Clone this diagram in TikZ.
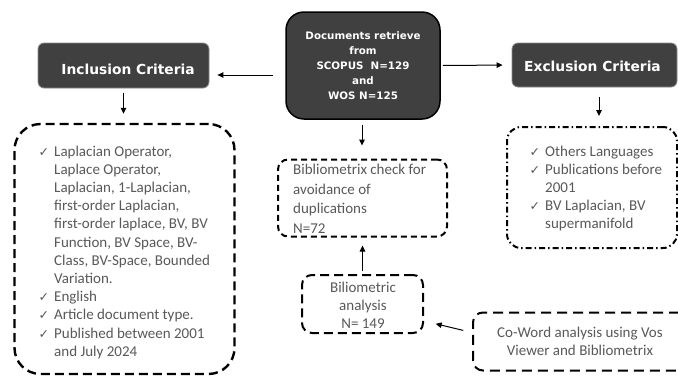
\documentclass[tikz,border=0pt]{standalone}
\usepackage{fontspec}
\setmainfont{Carlito}
\newfontfamily\hdfont{DejaVu Sans}
\newfontfamily\ckfont{DejaVu Sans}
\usetikzlibrary{arrows.meta}
\definecolor{darkfill}{HTML}{404040}
\definecolor{txtgray}{HTML}{595959}
\definecolor{edgegray}{HTML}{8C8C8C}
\newcommand{\ck}{{\ckfont\fontsize{12.5}{12}\selectfont ✓}}
\newcommand{\ckl}{\llap{\ck\hspace{5pt}}}
\tikzset{
  darkbox/.style={draw=edgegray, line width=0.8pt, fill=darkfill, rounded corners=6pt, inner sep=0pt},
  hdtext/.style={inner sep=0pt, text=white, font=\hdfont\bfseries\fontsize{13.8}{16}\selectfont},
  docbox/.style={draw=black, line width=1.5pt, fill=darkfill, rounded corners=18pt, inner sep=0pt,
    text=white, align=center, font=\hdfont\bfseries\fontsize{10.3}{15}\selectfont},
  dashbox/.style={draw=black, line width=2pt, inner sep=0pt, rounded corners=10pt},
  listtxt/.style={inner sep=0pt, text=txtgray, align=left, font=\fontsize{15}{18.2}\selectfont},
  arr/.style={draw=black, line width=1pt, -{Triangle[length=6pt,width=5.5pt]}},
}
\begin{document}
\begin{tikzpicture}[x=1pt,y=-1pt]
\useasboundingbox (0,0) rectangle (678,381);
\clip (0,0) rectangle (678,381);
\fill[white] (0,0) rectangle (678,381);

% dark boxes
\node[docbox, minimum width=154pt, minimum height=107pt] (docs) at (363,65.5)
  {Documents retrieve\\from\\SCOPUS\ \ N=129\\and\\WOS N=125};
\node[darkbox, minimum width=171pt, minimum height=45pt] (incl) at (123.5,65.5) {};
\node[hdtext] (incltxt) at (128,69) {Inclusion Criteria};
\node[darkbox, minimum width=165pt, minimum height=44pt] (excl) at (594.5,65) {};
\node[hdtext] (excltxt) at (592.5,66.5) {Exclusion Criteria};

% dashed boxes
\node[dashbox, line width=2.4pt, dash pattern=on 9pt off 5pt, rounded corners=26pt,
  minimum width=220pt, minimum height=250pt] (incllist) at (124.5,249) {};
\node[dashbox, dash pattern=on 6pt off 4pt, minimum width=169pt, minimum height=77pt] (check) at (362.5,198) {};
\node[dashbox, dash pattern=on 9pt off 5pt, minimum width=121pt, minimum height=58pt] (bili) at (362.5,304) {};
\node[dashbox, dash pattern=on 6pt off 3pt on 1.5pt off 3pt, rounded corners=14pt,
  minimum width=170pt, minimum height=121pt] (excllist) at (592,187.5) {};
\node[dashbox, dash pattern=on 10pt off 6pt, minimum width=216pt, minimum height=58pt] (coword) at (581,341.5) {};

% texts
\node[listtxt, anchor=north west] (incltext) at (54,145.5) {%
\ckl Laplacian Operator,\\
Laplace Operator,\\
Laplacian, 1-Laplacian,\\
first-order Laplacian,\\
first-order laplace, BV, BV\\
Function, BV Space, BV-\\
Class, BV-Space, Bounded\\
Variation.\\
\ckl English\\
\ckl Article document type.\\
\ckl Published between 2001\\
and July 2024};
\node[listtxt, anchor=north west] (excltext) at (545,145.5) {%
\ckl Others Languages\\
\ckl Publications before\\
2001\\
\ckl BV Laplacian, BV\\
supermanifold};
\node[listtxt, anchor=north west, font=\fontsize{15}{19.5}\selectfont] (checktext) at (293,164) {%
Bibliometrix check for\\
avoidance of\\
duplications\\
N=72};
\node[listtxt, align=center] (bilitext) at (363,305) {Biliometric\\analysis\\N= 149};
\node[listtxt, align=center] (cowordtext) at (580,341) {Co-Word analysis using Vos\\Viewer and Bibliometrix};

% connectors
\draw[arr, shorten <=12pt, shorten >=8pt] ([yshift=-9.5pt]docs.west) -- ([yshift=-9.5pt]incl.east);
\draw[arr, shorten <=2pt, shorten >=9pt] (docs.east) -- (excl.west);
\draw[arr, shorten <=5pt, shorten >=9pt] (incl.south) -- (incl.south |- incllist.north);
\draw[arr, shorten <=10pt, shorten >=10pt] ([xshift=4.5pt]excl.south) -- ([xshift=4.5pt]excl.south |- excllist.north);
\draw[arr, shorten <=5pt, shorten >=13pt] ([xshift=-1pt]docs.south) -- ([xshift=-1pt]docs.south |- check.north);
\draw[arr, shorten <=3pt, shorten >=8pt] (bili.north) -- (bili.north |- check.south);
\draw[arr, shorten <=9pt, shorten >=12pt] ([yshift=9pt]coword.west) -- ([yshift=-17pt]bili.east);
\end{tikzpicture}
\end{document}
